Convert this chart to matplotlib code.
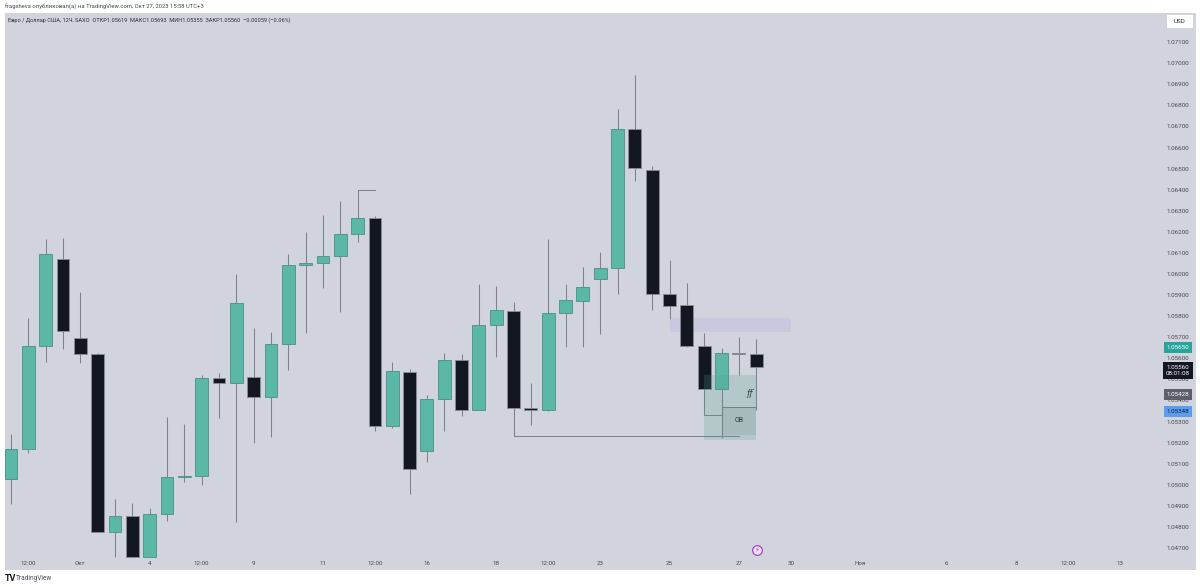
import matplotlib
matplotlib.use("Agg")
import matplotlib.pyplot as plt
from matplotlib.patches import Rectangle
from matplotlib.transforms import blended_transform_factory

plt.rcParams['font.family'] = ['Roboto', 'DejaVu Sans']

opens = [1.05029,1.05169,1.05660,1.06070,1.05696,1.05622,1.04775,1.04851,1.04659,1.04860,1.05037,1.05042,
         1.05507,1.05482,1.05513,1.05415,1.05668,1.06041,1.06051,1.06084,1.06188,1.06264,1.05280,1.05535,
         1.05159,1.05406,1.05594,1.05356,1.05760,1.05826,1.05364,1.05356,1.05816,1.05872,1.05976,1.06027,
         1.06686,1.06493,1.05907,1.05852,1.05660,1.05455,1.05627,1.05619]
closes = [1.05169,1.05660,1.06093,1.05728,1.05622,1.04775,1.04854,1.04659,1.04860,1.05037,1.05042,1.05508,
          1.05482,1.05862,1.05415,1.05668,1.06041,1.06051,1.06084,1.06188,1.06264,1.05280,1.05539,1.05077,
          1.05406,1.05594,1.05356,1.05760,1.05831,1.05364,1.05356,1.05816,1.05875,1.05940,1.06027,1.06686,
          1.06503,1.05907,1.05850,1.05660,1.05455,1.05627,1.05619,1.05560]
highs = [1.05241,1.05791,1.06166,1.06171,1.05916,1.05627,1.04933,1.04912,1.04889,1.05323,1.05289,1.05520,
         1.05532,1.06000,1.05742,1.05723,1.06093,1.06198,1.06281,1.06346,1.06397,1.06275,1.05584,1.05548,
         1.05426,1.05627,1.05621,1.05951,1.05943,1.05867,1.05482,1.06165,1.05953,1.06035,1.06103,1.06781,
         1.06944,1.06512,1.06066,1.05956,1.05719,1.05648,1.05700,1.05693]
lows = [1.04909,1.05152,1.05583,1.05644,1.05579,1.04775,1.04659,1.04659,1.04659,1.04830,1.05015,1.05001,
        1.05318,1.04825,1.05197,1.05228,1.05545,1.05719,1.05935,1.05821,1.06150,1.05257,1.05271,1.04957,
        1.05110,1.05257,1.05328,1.05356,1.05605,1.05232,1.05282,1.05352,1.05652,1.05655,1.05715,1.05907,
        1.06443,1.05829,1.05785,1.05655,1.05331,1.05224,1.05521,1.05355]

x_tick_pos = [1,4,8,11,14,18,21,24,28,31,34,38,42,45,49,54,58,61,64]
x_tick_labels = ['12:00','Окт','4','12:00','9','11','12:00','16','18','12:00','23','25','27','30','Ноя','6','8','12:00','13']
y_ticks = [1.047,1.048,1.049,1.050,1.051,1.052,1.053,1.054,1.055,1.056,1.057,1.058,1.059,1.060,1.061,1.062,
           1.063,1.064,1.065,1.066,1.067,1.068,1.069,1.070,1.071]

price_tags = [(1.05650,'1.05650','#26a69a','white'),(1.05428,'1.05428','#5d606b','white'),(1.05348,'1.05348','#5a9cf0','#10203a')]
last_price = 1.05560
last_countdown = '08:01:08'

BG = '#d1d4dc'
GREEN = '#5bb8a6'
DARK = '#131722'
WICK = '#7d818c'
TXT = '#454954'

fig = plt.figure(figsize=(12, 5.87), dpi=100, facecolor='white')
ax = fig.add_axes([5/1200, 1-570/587, (1196-5)/1200, (570-13)/587])
ax.set_facecolor(BG)
for s in ax.spines.values():
    s.set_visible(False)
ax.set_xlim(-0.346, 68.38)
ax.set_ylim(1.04596, 1.07238)

W = 0.74
for i, (o, c, h, l) in enumerate(zip(opens, closes, highs, lows)):
    up = c >= o
    ax.vlines(i, l, h, color=WICK, lw=0.75, zorder=2)
    ax.add_patch(Rectangle((i-W/2, min(o, c)), W, max(abs(c-o), 0.00004),
                           facecolor=GREEN if up else DARK,
                           edgecolor='#4d8f88' if up else '#8a8d96', lw=0.6, zorder=3))

# drawings
LINE = '#7d818c'
ax.plot([20, 21], [highs[20], highs[20]], color=LINE, lw=0.75, zorder=4)
ax.plot([29, 42], [lows[29], lows[29]], color=LINE, lw=0.75, zorder=4)
ax.plot([40, 41], [lows[40], lows[40]], color=LINE, lw=0.75, zorder=4)
ax.plot([41, 43], [1.05369, 1.05369], color=LINE, lw=0.75, zorder=4)
ax.add_patch(Rectangle((38, 1.05727), 7, 0.00063, facecolor='#c9c8de', edgecolor='none', zorder=1))
ax.add_patch(Rectangle((40, 1.05211), 3, 0.00309, facecolor=(0.30, 0.62, 0.55, 0.22), edgecolor='none', zorder=5))
ax.add_patch(Rectangle((41, 1.05235), 2, 0.00134, facecolor=(0.35, 0.42, 0.42, 0.14), edgecolor='none', zorder=5))
ax.text(42.65, 1.05432, 'ff', fontsize=6.5, style='italic', color='#333844', ha='center', va='center',
        family=['DejaVu Serif'], zorder=6)
ax.text(42.03, 1.05303, 'OB', fontsize=5, color='#333844', ha='center', va='center', zorder=6)

# purple event mark
ax.plot([43.05], [1.04691], marker='o', ms=7, mfc='#e8e6f0', mec='#b03fd0', mew=0.9, zorder=6, ls='none')
ax.text(43.05, 1.04691, '⚡', fontsize=5, color='#b03fd0', ha='center', va='center', family=['DejaVu Sans'], zorder=7)

# axes
ax.set_xticks(x_tick_pos)
ax.set_xticklabels(x_tick_labels)
ax.tick_params(axis='x', length=0, pad=-6.4, labelsize=4.4, labelcolor=TXT)
ax.yaxis.tick_right()
ax.set_yticks(y_ticks)
ax.set_yticklabels([f'{v:.5f}' for v in y_ticks])
ax.tick_params(axis='y', length=0, pad=-21, labelsize=4.5, labelcolor=TXT, labelleft=False)
for t in ax.get_xticklabels():
    t.set_zorder(8)
for t in ax.get_yticklabels():
    t.set_ha('left')

tr = blended_transform_factory(ax.transAxes, ax.transData)
tag_x = (1178 - 5) / (1196 - 5)
for p, s, col, tc in price_tags:
    ax.text(tag_x, p, s, transform=tr, fontsize=4.5, color=tc, ha='center', va='center', zorder=9,
            bbox=dict(boxstyle='square,pad=0.5', fc=col, ec='none'))
ax.text(tag_x, last_price - 0.00018, f'{last_price:.5f}\n{last_countdown}', transform=tr, fontsize=4.5, color='white',
        ha='center', va='center', zorder=9, linespacing=1.25,
        bbox=dict(boxstyle='square,pad=0.5', fc=DARK, ec='none'))

# header texts
fig.text(5/1200, 1-7/587, 'fragsheva опубликовал(а) на TradingView.com, Окт 27, 2023 15:58 UTC+3',
         fontsize=4.2, color='#454954', va='center')
fig.text(8/1200, 1-20/587, 'Евро / Доллар США, 12Ч, SAXO  ОТКР1.05619  МАКС1.05693  МИН1.05355  ЗАКР1.05560  −0.00059 (−0.06%)',
         fontsize=4.1, color='#2a2e39', va='center')
fig.text(5/1200, 1-578.5/587, 'TV', fontsize=6.5, fontweight='bold', color='#131722', va='center')
fig.text(16/1200, 1-579/587, 'TradingView', fontsize=4.7, color='#4a4e59', va='center')

# USD button
ax.add_patch(Rectangle(((1167-5)/1191, 1-(28-13)/557), 26/1191, 13/557, transform=ax.transAxes,
                       facecolor='white', edgecolor='none', zorder=8))
ax.text((1180-5)/1191, 1-(21.5-13)/557, 'USD', transform=ax.transAxes, fontsize=4.5, color='#2a2e39',
        ha='center', va='center', zorder=9)

fig.savefig('out.png', dpi=100, facecolor='white')
